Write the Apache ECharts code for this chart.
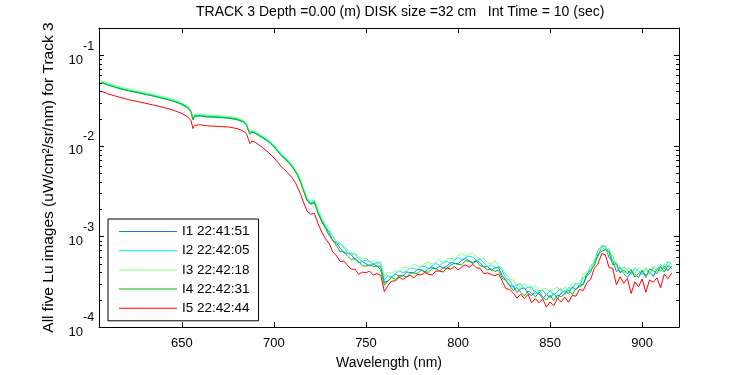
<!DOCTYPE html>
<html><head><meta charset="utf-8">
<script src="https://cdn.jsdelivr.net/npm/echarts@6/dist/echarts.min.js"></script>
<style>html,body{margin:0;padding:0;background:#fff}#c{width:750px;height:375px}</style>
</head><body><div id="c"></div>
<script>
const wavelength = [606,610,614,618,622,626,630,634,638,642,646,650,653,655,656,657,658,660,664,668,672,676,680,683,685,686,687,688,
690,692,694,696,698,700,702,704,706,708,710,712,714,716,718,720,722,724,726,728,
730,732,734,736,738,740,742,744,746,748,750,752,754,756,758,760,762,764,766,768,770,772,774,776,778,780,782,784,786,788,
790,792,794,796,798,800,802,804,806,808,810,812,814,816,818,820,822,824,826,828,830,832,834,836,838,840,842,844,846,848,
850,852,854,856,858,860,862,864,866,868,870,872,874,876,878,880,882,884,886,888,890,892,894,896,898,900,902,904,906,908,
910,912,914,916];

const i1 = [0.0505,0.0473,0.0445,0.0423,0.0405,0.0390,0.0374,0.0359,0.0343,0.0328,0.0310,0.0289,
0.0267,0.0240,0.0196,0.0214,0.0220,0.0216,0.0210,0.0209,0.0206,0.0203,0.0196,0.0186,0.0173,0.0153,0.0135,0.0143,
0.0138,0.0130,0.0123,0.0116,0.0108,0.00983,0.00878,0.00784,0.00718,0.00657,0.00587,0.00511,0.00423,0.00325,0.00253,0.00228,0.00239,0.00182,0.00147,0.00125,
11.0e-4,8.9e-4,8.4e-4,7.4e-4,6.6e-4,6.5e-4,6.3e-4,5.6e-4,5.1e-4,5.3e-4,
5.0e-4,4.7e-4,5.0e-4,4.7e-4,4.7e-4,3.10e-4,3.22e-4,3.59e-4,3.82e-4,3.67e-4,
3.65e-4,4.04e-4,4.00e-4,3.96e-4,4.35e-4,4.29e-4,4.05e-4,4.39e-4,4.60e-4,4.37e-4,
4.71e-4,4.46e-4,4.71e-4,5.18e-4,5.07e-4,4.99e-4,5.44e-4,5.71e-4,5.39e-4,5.13e-4,
5.47e-4,5.12e-4,4.61e-4,4.65e-4,4.20e-4,4.51e-4,4.53e-4,3.70e-4,3.28e-4,2.84e-4,
2.85e-4,2.39e-4,2.64e-4,2.70e-4,2.35e-4,2.22e-4,2.47e-4,2.31e-4,2.06e-4,2.29e-4,
2.11e-4,2.35e-4,2.06e-4,2.37e-4,2.52e-4,2.33e-4,2.77e-4,2.58e-4,2.91e-4,2.94e-4,
3.69e-4,3.99e-4,5.42e-4,6.04e-4,7.87e-4,7.80e-4,5.81e-4,5.44e-4,4.09e-4,4.54e-4,
3.88e-4,3.49e-4,4.08e-4,3.85e-4,3.49e-4,4.22e-4,3.69e-4,4.08e-4,3.62e-4,4.36e-4,
4.14e-4,4.73e-4,4.17e-4,4.74e-4];

const i2 = [0.0508,0.0477,0.0447,0.0427,0.0407,0.0394,0.0377,0.0362,0.0346,0.0331,0.0313,0.0292,
0.0270,0.0243,0.0199,0.0217,0.0224,0.0219,0.0214,0.0213,0.0208,0.0205,0.0199,0.0189,0.0176,0.0155,0.0137,0.0146,
0.0141,0.0132,0.0125,0.0118,0.0110,0.0100,0.00895,0.00800,0.00732,0.00670,0.00600,0.00523,0.00434,0.00335,0.00261,0.00236,0.00247,0.00190,0.00154,0.00131,
11.3e-4,10.2e-4,8.6e-4,8.1e-4,7.7e-4,6.5e-4,6.5e-4,6.4e-4,5.7e-4,5.3e-4,
5.5e-4,5.2e-4,4.9e-4,5.2e-4,5.2e-4,3.30e-4,3.68e-4,3.55e-4,3.94e-4,4.17e-4,
3.98e-4,4.15e-4,4.49e-4,4.42e-4,4.28e-4,4.66e-4,4.69e-4,4.39e-4,4.75e-4,5.02e-4,
4.80e-4,5.14e-4,5.31e-4,5.00e-4,5.45e-4,5.84e-4,5.54e-4,5.80e-4,6.08e-4,5.90e-4,
5.41e-4,5.67e-4,5.11e-4,4.63e-4,4.83e-4,4.48e-4,4.66e-4,4.20e-4,3.43e-4,3.29e-4,
2.73e-4,2.92e-4,2.99e-4,2.63e-4,2.75e-4,2.76e-4,2.32e-4,2.52e-4,2.54e-4,2.26e-4,
2.54e-4,2.23e-4,2.47e-4,2.65e-4,2.35e-4,2.72e-4,2.64e-4,3.03e-4,2.82e-4,3.52e-4,
3.68e-4,4.76e-4,5.10e-4,7.10e-4,7.80e-4,7.08e-4,7.26e-4,5.37e-4,5.01e-4,3.97e-4,
4.57e-4,4.24e-4,3.79e-4,4.47e-4,4.18e-4,3.80e-4,4.50e-4,3.83e-4,4.55e-4,4.21e-4,
4.92e-4,4.36e-4,5.27e-4,4.96e-4];

const i3 = [0.0525,0.0492,0.0463,0.0440,0.0421,0.0406,0.0389,0.0373,0.0357,0.0341,0.0322,0.0301,
0.0278,0.0250,0.0204,0.0223,0.0229,0.0225,0.0218,0.0217,0.0214,0.0211,0.0204,0.0193,0.0180,0.0159,0.0140,0.0149,
0.0144,0.0135,0.0128,0.0121,0.0113,0.0103,0.00918,0.00822,0.00752,0.00688,0.00616,0.00537,0.00447,0.00345,0.00270,0.00244,0.00256,0.00197,0.00160,0.00136,
12.3e-4,10.1e-4,8.60e-4,8.51e-4,7.45e-4,7.14e-4,6.24e-4,6.50e-4,6.00e-4,5.57e-4,
5.79e-4,5.26e-4,5.43e-4,4.97e-4,5.12e-4,3.63e-4,4.02e-4,3.92e-4,4.21e-4,4.07e-4,
4.56e-4,4.57e-4,4.41e-4,4.94e-4,4.74e-4,4.64e-4,5.07e-4,5.23e-4,4.98e-4,5.18e-4,
5.48e-4,5.10e-4,5.62e-4,5.72e-4,5.63e-4,6.17e-4,6.44e-4,6.04e-4,6.42e-4,6.49e-4,
6.00e-4,5.61e-4,5.72e-4,5.16e-4,4.95e-4,5.37e-4,4.74e-4,4.44e-4,3.86e-4,3.37e-4,
3.31e-4,2.88e-4,2.69e-4,3.00e-4,2.83e-4,2.57e-4,2.87e-4,2.38e-4,2.63e-4,2.66e-4,
2.41e-4,2.61e-4,2.75e-4,2.46e-4,2.77e-4,2.52e-4,3.04e-4,3.00e-4,3.04e-4,3.86e-4,
4.07e-4,4.15e-4,5.59e-4,6.36e-4,7.76e-4,7.90e-4,6.19e-4,6.21e-4,4.70e-4,4.74e-4,
3.89e-4,4.52e-4,4.31e-4,3.86e-4,4.50e-4,4.06e-4,4.39e-4,3.80e-4,4.68e-4,4.50e-4,
4.20e-4,4.95e-4,4.62e-4,5.35e-4];

const i4 = [0.0500,0.0468,0.0441,0.0419,0.0401,0.0386,0.0370,0.0356,0.0340,0.0325,0.0307,0.0286,
0.0264,0.0237,0.0194,0.0212,0.0218,0.0214,0.0208,0.0207,0.0204,0.0201,0.0194,0.0184,0.0171,0.0151,0.0134,0.0142,
0.0137,0.0129,0.0122,0.0115,0.0107,0.00973,0.00869,0.00776,0.00711,0.00650,0.00581,0.00506,0.00419,0.00322,0.00250,0.00226,0.00236,0.00180,0.00145,0.00123,
10.2e-4,9.09e-4,7.88e-4,6.79e-4,6.77e-4,6.05e-4,5.52e-4,5.74e-4,5.30e-4,4.74e-4,
4.70e-4,4.87e-4,4.65e-4,4.69e-4,4.31e-4,2.90e-4,3.23e-4,3.53e-4,3.35e-4,3.65e-4,
3.72e-4,3.54e-4,3.93e-4,3.94e-4,3.89e-4,4.24e-4,4.06e-4,4.02e-4,4.46e-4,4.40e-4,
4.18e-4,4.50e-4,4.44e-4,4.80e-4,5.04e-4,4.91e-4,4.85e-4,5.39e-4,5.30e-4,5.02e-4,
5.34e-4,4.74e-4,4.61e-4,4.26e-4,4.39e-4,4.10e-4,4.23e-4,3.46e-4,3.26e-4,2.87e-4,
2.52e-4,2.73e-4,2.43e-4,2.21e-4,2.50e-4,2.37e-4,2.15e-4,2.42e-4,2.15e-4,1.98e-4,
2.24e-4,1.96e-4,2.26e-4,2.16e-4,2.33e-4,2.57e-4,2.29e-4,2.65e-4,2.77e-4,2.95e-4,
3.86e-4,4.29e-4,4.70e-4,6.40e-4,6.84e-4,7.11e-4,6.76e-4,4.84e-4,5.04e-4,3.97e-4,
4.25e-4,3.85e-4,4.31e-4,3.55e-4,3.88e-4,4.17e-4,3.53e-4,4.36e-4,4.18e-4,3.90e-4,
4.68e-4,4.04e-4,4.80e-4,4.39e-4];

const i5 = [0.0402,0.0375,0.0354,0.0336,0.0320,0.0308,0.0296,0.0284,0.0272,0.0259,0.0245,0.0228,
0.0210,0.0190,0.0155,0.0168,0.0174,0.0171,0.0166,0.0165,0.0163,0.0161,0.0155,0.0147,0.0137,0.0121,0.0106,0.0113,
0.0109,0.0102,0.0095,0.0088,0.0081,0.0074,0.0066,0.0059,0.0054,0.0049,0.0044,0.0038,0.0031,0.0024,0.00190,0.00176,0.00180,0.00138,0.00112,0.00094,
8.34e-4,6.73e-4,6.12e-4,5.27e-4,5.35e-4,4.78e-4,4.34e-4,4.35e-4,3.82e-4,4.03e-4,
3.99e-4,4.13e-4,3.74e-4,3.89e-4,3.73e-4,2.45e-4,2.88e-4,3.22e-4,3.22e-4,3.55e-4,
3.35e-4,3.55e-4,3.73e-4,3.49e-4,3.81e-4,3.77e-4,3.99e-4,3.82e-4,3.76e-4,4.15e-4,
4.13e-4,4.04e-4,4.50e-4,4.34e-4,4.65e-4,4.26e-4,4.62e-4,4.86e-4,4.58e-4,4.91e-4,
4.51e-4,4.43e-4,3.89e-4,3.95e-4,3.81e-4,3.67e-4,3.85e-4,3.22e-4,2.65e-4,2.60e-4,
2.38e-4,2.08e-4,2.31e-4,2.06e-4,2.30e-4,1.85e-4,2.06e-4,1.85e-4,2.04e-4,1.66e-4,
1.89e-4,1.72e-4,2.08e-4,1.90e-4,2.13e-4,1.88e-4,2.23e-4,2.19e-4,2.60e-4,2.53e-4,
3.10e-4,3.35e-4,4.46e-4,4.94e-4,6.47e-4,6.27e-4,4.53e-4,4.45e-4,2.93e-4,3.59e-4,
3.03e-4,3.43e-4,2.34e-4,3.15e-4,2.79e-4,3.38e-4,2.43e-4,3.30e-4,3.12e-4,3.49e-4,
2.71e-4,3.83e-4,3.42e-4,3.92e-4];

const seriesNames = ['I1 22:41:51','I2 22:42:05','I3 22:42:18','I4 22:42:31','I5 22:42:44'];
const seriesValues = [i1, i2, i3, i4, i5];
const seriesColors = ['#1a78f0','#00e6ee','#80ff80','#00c000','#ff0000'];
const xTicks = [650,700,750,800,850,900];
const yMinorTicks = [2e-4,3e-4,4e-4,5e-4,6e-4,7e-4,8e-4,9e-4,2e-3,3e-3,4e-3,5e-3,6e-3,7e-3,8e-3,9e-3,2e-2,3e-2,4e-2,5e-2,6e-2,7e-2,8e-2,9e-2];
const xMin = 605, xMax = 920, yMin = 1e-4, yMax = 0.2;

const FONT = 'Liberation Sans, Arial, sans-serif';
const chart = echarts.init(document.getElementById('c'), null, {renderer: 'canvas'});

function powerOf(v) {
  const l = Math.log10(v);
  const e = Math.round(l);
  return Math.abs(l - e) < 1e-6 ? e : null;
}

const lineSeries = seriesNames.map((name, k) => ({
  name: name, type: 'line', xAxisIndex: 0, yAxisIndex: 0,
  data: wavelength.map((w, i) => [w, seriesValues[k][i]]),
  showSymbol: false, symbol: 'none',
  lineStyle: {width: 1, color: seriesColors[k]},
  itemStyle: {color: seriesColors[k]},
  animation: false, z: 2
}));

const minorTickSeries = {
  type: 'custom', xAxisIndex: 0, yAxisIndex: 0, silent: true, clip: false, z: 5, animation: false,
  data: yMinorTicks.map(v => [xMin, v]),
  renderItem: function (params, api) {
    const v = api.value(1);
    const l = api.coord([xMin, v]);
    const r = api.coord([xMax, v]);
    const yl = Math.round(l[1]) + 0.5;
    return {type: 'group', children: [
      {type: 'line', shape: {x1: l[0], y1: yl, x2: l[0] + 3, y2: yl}, style: {stroke: '#000', lineWidth: 1}},
      {type: 'line', shape: {x1: r[0] - 3, y1: yl, x2: r[0], y2: yl}, style: {stroke: '#000', lineWidth: 1}}
    ]};
  }
};

const axisLineStyle = {show: true, lineStyle: {color: '#000', width: 1}};

chart.setOption({
  backgroundColor: '#fff',
  animation: false,
  color: seriesColors,
  title: {
    text: 'TRACK 3 Depth =0.00 (m) DISK size =32 cm   Int Time = 10 (sec)',
    left: 196, top: 5, padding: 0,
    textStyle: {fontSize: 14, fontWeight: 'normal', color: '#000', fontFamily: FONT}
  },
  legend: {
    data: seriesNames.map((n, k) => ({name: n, icon: 'rect', itemStyle: {color: seriesColors[k], borderWidth: 0, opacity: 1}})),
    orient: 'vertical', left: 108, top: 219,
    backgroundColor: '#fff', borderColor: '#000', borderWidth: 1,
    padding: [5, 9, 5, 11],
    itemWidth: 58, itemHeight: 1, itemGap: 4.2,
    textStyle: {fontSize: 13.5, color: '#000', fontFamily: FONT, lineHeight: 15},
    selectedMode: false
  },
  grid: {left: 99, right: 71, top: 28, bottom: 44, containLabel: false},
  xAxis: [
    {type: 'value', min: xMin, max: xMax, position: 'bottom',
     axisLine: axisLineStyle,
     axisTick: {show: true, inside: true, length: 5, customValues: xTicks, lineStyle: {color: '#000'}},
     axisLabel: {customValues: xTicks, margin: 10, fontSize: 13, color: '#000', fontFamily: FONT},
     splitLine: {show: false},
     name: 'Wavelength (nm)', nameLocation: 'middle', nameGap: 29,
     nameTextStyle: {fontSize: 14, color: '#000', fontFamily: FONT}},
    {type: 'value', min: xMin, max: xMax, position: 'top',
     axisLine: axisLineStyle,
     axisTick: {show: true, inside: true, length: 5, customValues: xTicks, lineStyle: {color: '#000'}},
     axisLabel: {show: false}, splitLine: {show: false}}
  ],
  yAxis: [
    {type: 'log', min: yMin, max: yMax, position: 'left', logBase: 10,
     axisLine: axisLineStyle,
     axisTick: {show: true, inside: true, length: 5, lineStyle: {color: '#000'}},
     axisLabel: {formatter: v => (powerOf(v) === null ? '' : '10'), margin: 16, fontSize: 13, color: '#000', fontFamily: FONT,
                 align: 'right', verticalAlign: 'top', lineHeight: 10},
     splitLine: {show: false},
     name: 'All five Lu images (uW/cm²/sr/nm) for Track 3', nameLocation: 'middle', nameGap: 42,
     nameTextStyle: {fontSize: 15.5, color: '#000', fontFamily: FONT}},
    {type: 'log', min: yMin, max: yMax, position: 'right', logBase: 10,
     axisLine: axisLineStyle,
     axisTick: {show: true, inside: true, length: 5, lineStyle: {color: '#000'}},
     axisLabel: {show: false}, splitLine: {show: false}},
    {type: 'log', min: yMin, max: yMax, position: 'left', logBase: 10,
     axisLine: {show: false}, axisTick: {show: false}, splitLine: {show: false},
     axisLabel: {formatter: v => { const e = powerOf(v); return e === null ? '' : String(e); },
                 margin: 16, fontSize: 12.5, color: '#000', fontFamily: FONT,
                 align: 'left', verticalAlign: 'bottom', lineHeight: 18}}
  ],
  series: lineSeries.concat([minorTickSeries])
});
</script>
</body></html>
